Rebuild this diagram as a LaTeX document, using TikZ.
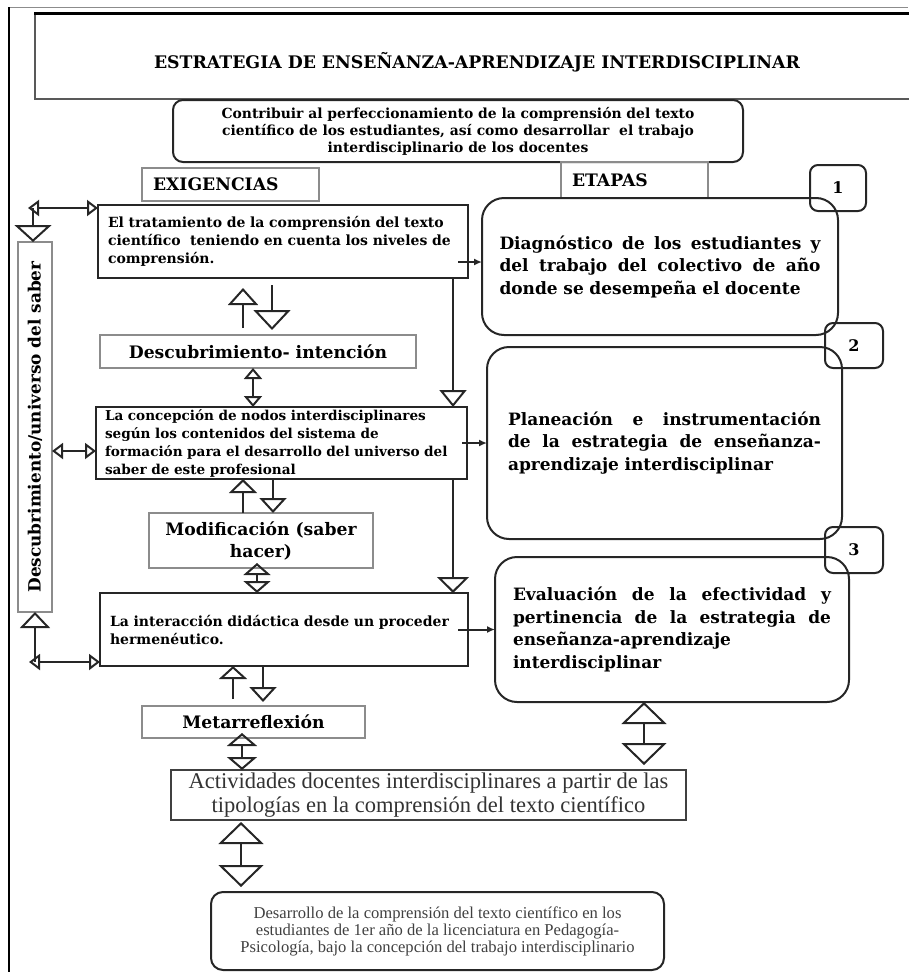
\documentclass[tikz,border=0pt]{standalone}
\usepackage{fontspec}
\setmainfont{DejaVu Serif}
\newfontfamily\timesfont{Liberation Serif}
\usetikzlibrary{arrows.meta}

% justified line of a stage text
\newcommand{\jline}[2]{{\spaceskip=0pt\xspaceskip=0pt\makebox[#1][s]{#2}}\\}

\begin{document}
\begin{tikzpicture}[x=1pt, y=-1pt,
    every node/.style={inner sep=0pt, outer sep=0pt},
    link/.style={draw=black!85, line width=2pt},
    main-box/.style={draw=black!85, line width=2.4pt, align=left, inner xsep=10pt,
        font=\bfseries\fontsize{14}{18}\selectfont},
    tag-box/.style={draw=black!45, line width=1.5pt, align=center,
        font=\bfseries\fontsize{17.2}{22}\selectfont},
    stage-box/.style={draw=black!85, line width=2pt, rounded corners=22pt, align=left,
        font=\bfseries\fontsize{17}{22.5}\selectfont},
    num-box/.style={draw=black!85, line width=2pt, rounded corners=8pt,
        font=\bfseries\fontsize{16}{18}\selectfont},
    otri/.style 2 args={-{Triangle[open, length=#1, width=#2]}},
    dtri/.style 2 args={{Triangle[open, length=#1, width=#2]}-{Triangle[open, length=#1, width=#2]}},
    fill-tip/.style={-{Latex[length=8pt, width=7pt]}}
  ]
\useasboundingbox (0,0) rectangle (908,972);

% Frame and title
\draw[black!45, line width=1pt] (8,7.5) -- (908,7.5);
\draw[line width=2.5pt] (9,7) -- (9,972);
\draw[black!65, line width=2pt] (35,14) rectangle (940,99);
\draw[line width=3pt] (34,13) -- (940,13);
\node[font=\bfseries\fontsize{17.3}{20}\selectfont] (title) at (477,62)
  {ESTRATEGIA DE ENSEÑANZA-APRENDIZAJE INTERDISCIPLINAR};

% Objective
\node[draw=black!85, line width=2pt, rounded corners=10pt, minimum width=570pt, minimum height=62pt,
  align=center, font=\bfseries\fontsize{13.9}{17}\selectfont] (obj) at (458,131)
  {Contribuir al perfeccionamiento de la comprensión del texto\\
   científico de los estudiantes, así como desarrollar\ \ el trabajo\\
   interdisciplinario de los docentes};

% Headers
\node[tag-box, minimum width=177pt, minimum height=33pt, text width=155pt, align=left] (exig) at (230.5,184.5) {EXIGENCIAS};
\node[tag-box, minimum width=147pt, minimum height=36pt, text width=125pt, align=left] (etapas) at (634.5,180) {ETAPAS};

% Exigencias
\node[main-box, minimum width=370pt, minimum height=73pt, text width=350pt] (b1) at (283,241.5)
  {El tratamiento de la comprensión del texto\\
   científico\ \ teniendo en cuenta los niveles de\\
   comprensión.};
\node[main-box, minimum width=371pt, minimum height=72pt, text width=353pt, inner xsep=9pt,
  font=\bfseries\fontsize{13.6}{18}\selectfont] (b2) at (281.5,443)
  {La concepción de nodos interdisciplinares\\
   según los contenidos del sistema de\\
   formación para el desarrollo del universo del\\
   saber de este profesional};
\node[main-box, minimum width=368pt, minimum height=73pt, text width=348pt] (b3) at (284,629.5)
  {La interacción didáctica desde un proceder\\
   hermenéutico.};

\node[tag-box, minimum width=316pt, minimum height=33pt] (dint) at (258,351.5) {Descubrimiento- intención};
\node[tag-box, minimum width=224pt, minimum height=55pt] (modif) at (261,540.5) {Modificación (saber\\hacer)};
\node[tag-box, minimum width=223pt, minimum height=32pt] (meta) at (253.5,722) {Metarreflexión};
\node[tag-box, minimum width=34pt, minimum height=370pt] (vert) at (35,427) {};
\node[rotate=90, font=\bfseries\fontsize{16.9}{20}\selectfont] (vert-txt) at (vert.center)
  {Descubrimiento/universo del saber};

% Etapas
\node[stage-box, minimum width=356pt, minimum height=137pt, text width=321pt] (s1) at (660,266.5)
  {\jline{321pt}{Diagnóstico de los estudiantes y}\jline{321pt}{del trabajo del colectivo de año}donde se desempeña el docente};
\node[stage-box, minimum width=355pt, minimum height=192pt, text width=313pt] (s2) at (664.5,443)
  {\jline{313pt}{Planeación e instrumentación}\jline{313pt}{de la estrategia de enseñanza-}aprendizaje interdisciplinar};
\node[stage-box, minimum width=354pt, minimum height=145pt, text width=318pt] (s3) at (672,629.5)
  {\jline{318pt}{Evaluación de la efectividad y}\jline{318pt}{pertinencia de la estrategia de}enseñanza-aprendizaje\\interdisciplinar};
\node[num-box, minimum width=56pt, minimum height=46pt] (n1) at (838,188) {1};
\node[num-box, minimum width=58pt, minimum height=45pt] (n2) at (854,345.5) {2};
\node[num-box, minimum width=58pt, minimum height=46pt] (n3) at (854,550) {3};

% Results
\node[draw=black!75, line width=2pt, minimum width=515pt, minimum height=50pt, align=center,
  text=black!80, font=\timesfont\fontsize{22.5}{24}\selectfont] (activ) at (428.5,795)
  {Actividades docentes interdisciplinares a partir de las\\
   tipologías en la comprensión del texto científico};
\node[draw=black!85, line width=2pt, rounded corners=12pt, minimum width=453pt, minimum height=78pt,
  align=center, text=black!75, font=\timesfont\fontsize{16.6}{17}\selectfont] (final) at (437.5,931)
  {Desarrollo de la comprensión del texto científico en los\\
   estudiantes de 1er año de la licenciatura en Pedagogía-\\
   Psicología, bajo la concepción del trabajo interdisciplinario};

% Connectors between exigencias
\draw[link, otri={17pt}{30pt}, shorten <=7pt, shorten >=10pt] ([xshift=-40pt]b1.south |- dint.north) -- ([xshift=-40pt]b1.south);
\draw[link, otri={20pt}{37pt}, shorten <=7pt, shorten >=5pt] ([xshift=-11pt]b1.south) -- ([xshift=-11pt]b1.south |- dint.north);
\draw[link, dtri={11pt}{18pt}] ([xshift=-5pt]dint.south) -- ([xshift=-5pt]dint.south |- b2.north);
\draw[link, otri={17pt}{27pt}] ([xshift=-15pt]b1.south east) -- ([xshift=-15pt]b1.south east |- b2.north);
\draw[link, otri={14pt}{28pt}] ([xshift=-18pt]modif.north) -- ([xshift=-18pt]modif.north |- b2.south);
\draw[link, otri={15pt}{27pt}] ([xshift=12pt]modif.north |- b2.south) -- ([xshift=12pt]modif.north);
\draw[link, dtri={12pt}{27pt}, shorten <=-5pt] ([xshift=-4pt]modif.south) -- ([xshift=-4pt]modif.south |- b3.north);
\draw[link, otri={16pt}{32pt}] ([xshift=-14pt]b2.south east) -- ([xshift=-14pt]b2.south east |- b3.north);
\draw[link, otri={13pt}{28pt}, shorten <=7pt] ([xshift=-20.5pt]meta.north) -- ([xshift=-20.5pt]meta.north |- b3.south);
\draw[link, otri={15pt}{27pt}, shorten >=4pt] ([xshift=9.5pt]meta.north |- b3.south) -- ([xshift=9.5pt]meta.north);
\draw[link, dtri={13pt}{30pt}, shorten <=-5pt] ([xshift=-11.5pt]meta.south) -- ([xshift=-11.5pt]meta.south |- activ.north);
\draw[link, dtri={22pt}{45pt}, shorten >=5pt] ([xshift=-28pt]s3.south) -- ([xshift=-28pt]s3.south |- activ.north);
\draw[link, dtri={22pt}{45pt}, shorten <=2pt, shorten >=5pt] ([xshift=-187.5pt]activ.south) -- ([xshift=-187.5pt]activ.south |- final.north);

% Left side
\coordinate (ltop) at (28,208);
\coordinate (jtop) at (33,208);
\draw[link, dtri={11pt}{16pt}] (ltop) -- (b1.west |- ltop);
\draw[link, otri={17pt}{37pt}] (jtop) -- (jtop |- vert.north);
\coordinate (lmid) at ([yshift=-8pt]b2.west);
\draw[link, dtri={11pt}{16pt}] (vert.east |- lmid) -- (lmid);
\coordinate (lbot) at (29,662);
\coordinate (jbot) at (35,662);
\draw[link, dtri={11pt}{16pt}] (lbot) -- (b3.west |- lbot);
\draw[link, otri={16pt}{30pt}] (jbot) -- (jbot |- vert.south);

% To the etapas
\draw[link, fill-tip] ([xshift=-10pt,yshift=-20.5pt]b1.east) -- ([yshift=-20.5pt]b1.east -| s1.west);
\draw[link, fill-tip] ([xshift=-5pt]b2.east) -- (b2.east -| s2.west);
\draw[link, fill-tip] ([xshift=-10pt]b3.east) -- (b3.east -| s3.west);

\end{tikzpicture}
\end{document}
